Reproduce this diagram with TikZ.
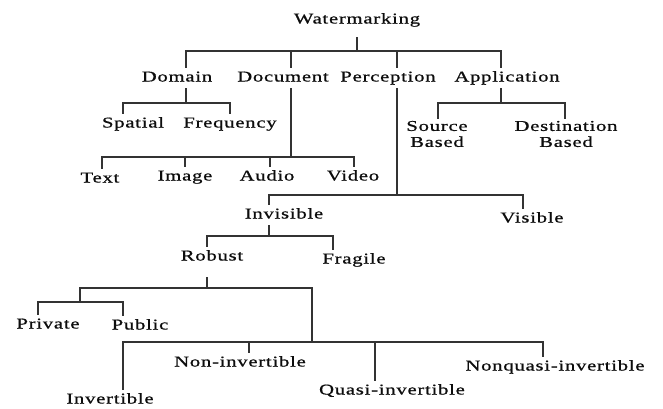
\documentclass[tikz,border=0pt]{standalone}
\usepackage{fontspec}
\setmainfont{Liberation Serif}[FakeStretch=1.38,LetterSpace=5,FakeBold=0.8]
\usepackage{tikz}
\usetikzlibrary{positioning}
\tikzset{lbl/.style = {font=\fontsize{15pt}{16pt}\selectfont, text=black!95, text height=10.5pt, text depth=3.5pt, inner xsep=2pt, inner ysep=3pt}}
\tikzset{lbltwo/.style = {font=\fontsize{15pt}{16pt}\selectfont, text=black!95, align=center, inner sep=2pt}}
\tikzset{branch/.style={line width=1.4pt, draw=black!80}}

\begin{document}
\begin{tikzpicture}[x=1pt,y=-1pt]
\useasboundingbox (0,0) rectangle (663,408);

\node[lbl] (wm) at (357,20) {Watermarking};

\node[lbl] (dom) at (177,78) {Domain};
\node[lbl] (doc) at (283,78) {Document};
\node[lbl] (per) at (388,78) {Perception};
\node[lbl] (app) at (507,78) {Application};

\node[lbl] (spa) at (133,124) {Spatial};
\node[lbl] (fre) at (230,124) {Frequency};

\node[lbl] (txt) at (100,179) {Text};
\node[lbl] (img) at (185,177) {Image};
\node[lbl] (aud) at (267,177) {Audio};
\node[lbl] (vid) at (353,177) {Video};

\node[lbltwo] (src) at (437,134) {Source\\Based};
\node[lbltwo] (dst) at (566,134) {Destination\\Based};

\node[lbl] (inv) at (284,215) {Invisible};
\node[lbl] (vis) at (532,219) {Visible};

\node[lbl] (rob) at (212,257) {Robust};
\node[lbl] (fra) at (354,260) {Fragile};

\node[lbl] (pri) at (48,325) {Private};
\node[lbl] (pub) at (140,326) {Public};

\node[lbl] (ivt) at (110,400) {Invertible};
\node[lbl] (nin) at (240,363) {Non-invertible};
\node[lbl] (qin) at (392,391) {Quasi-invertible};
\node[lbl] (nqi) at (555,367) {Nonquasi-invertible};

% junctions
\coordinate (wmj) at (357,51);
\coordinate (domj) at (186,103);
\coordinate (docj) at (291,157);
\coordinate (perj) at (397,195);
\coordinate (appj) at (501,103);
\coordinate (invj) at (269,236);
\coordinate (robj) at (207,288);
\coordinate (grpa) at (80,302);
\coordinate (grpb) at (312,342);

% Watermarking
\draw[branch] ([yshift=-7pt]wm.south) -- (wmj);
\draw[branch] (wmj) -| ([xshift=9pt]dom.north);
\draw[branch] (wmj) -| ([xshift=8pt]doc.north);
\draw[branch] (wmj) -| ([xshift=9pt]per.north);
\draw[branch] (wmj) -| ([xshift=-6pt]app.north);

% Domain
\draw[branch] ([xshift=9pt]dom.south) -- (domj);
\draw[branch] (domj) -| ([xshift=-10pt]spa.north);
\draw[branch] (domj) -| (fre.north);

% Document
\draw[branch] ([xshift=8pt]doc.south) -- (docj);
\draw[branch] (docj) -| ([xshift=2pt]txt.north);
\draw[branch] (docj) -| (img.north);
\draw[branch] (docj) -| ([xshift=3pt]aud.north);
\draw[branch] (docj) -| ([xshift=1pt]vid.north);

% Application
\draw[branch] ([xshift=-6pt]app.south) -- (appj);
\draw[branch] (appj) -| ([xshift=1pt]src.north);
\draw[branch] (appj) -| ([xshift=-1pt]dst.north);

% Perception
\draw[branch] ([xshift=9pt]per.south) -- (perj);
\draw[branch] (perj) -| ([xshift=-15pt]inv.north);
\draw[branch] (perj) -| ([xshift=-9pt]vis.north);

% Invisible
\draw[branch] ([xshift=-15pt]inv.south) -- (invj);
\draw[branch] (invj) -| ([xshift=-5pt]rob.north);
\draw[branch] (invj) -| ([xshift=-21pt]fra.north);

% Robust
\draw[branch] ([xshift=-5pt,yshift=-10pt]rob.south) -- (robj);
\draw[branch] (robj) -| (grpa);
\draw[branch] (robj) -| (grpb);
\draw[branch] (grpa) -| ([xshift=-10pt]pri.north);
\draw[branch] (grpa) -| ([xshift=-17pt]pub.north);
\draw[branch] (grpb) -| ([xshift=13pt]ivt.north);
\draw[branch] (grpb) -| ([xshift=9pt]nin.north);
\draw[branch] (grpb) -| ([xshift=-17pt]qin.north);
\draw[branch] (grpb) -| ([xshift=-12pt]nqi.north);
\end{tikzpicture}
\end{document}
